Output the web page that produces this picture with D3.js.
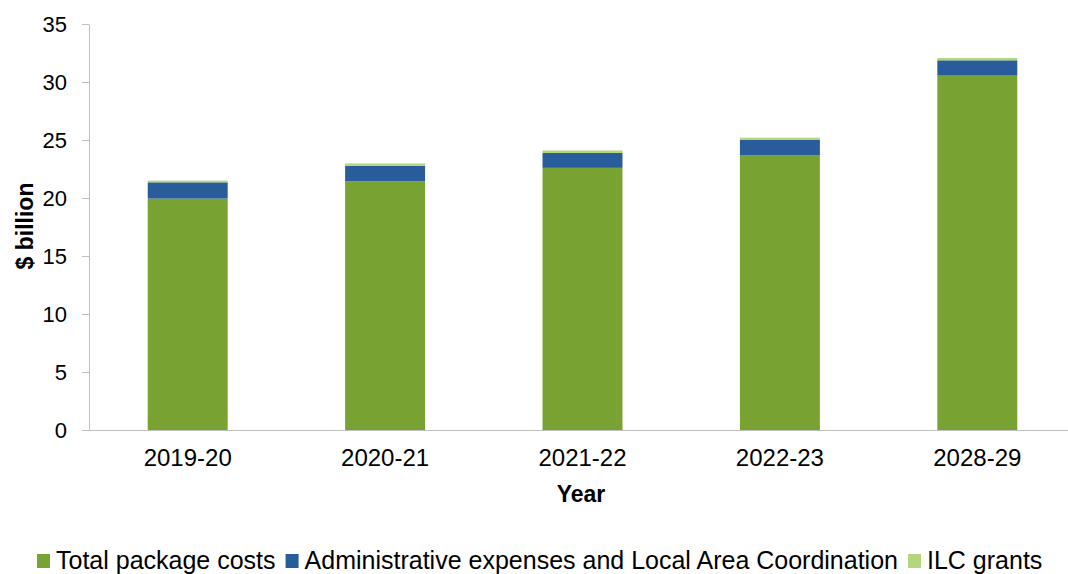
<!DOCTYPE html>
<html><head><meta charset="utf-8">
<script src="https://cdn.jsdelivr.net/npm/d3@7"></script>
<style>body{margin:0;background:#fff;} svg{display:block;font-family:"Liberation Sans",Arial,sans-serif;}</style>
</head><body><svg id="chart" width="1068" height="574"></svg>
<script>
const years = ["2019-20","2020-21","2021-22","2022-23","2028-29"];
const packageCosts = [19.95, 21.45, 22.6, 23.7, 30.55];
const adminCosts = [1.4, 1.33, 1.28, 1.3, 1.32];
const ilcGrants = [0.15, 0.2, 0.22, 0.2, 0.2];
const seriesNames = ["Total package costs","Administrative expenses and Local Area Coordination","ILC grants"];
const yTicks = [0,5,10,15,20,25,30,35];
const colors = ["#78A232","#285C9B","#B4D67C"];

const svg = d3.select("#chart");
const x0 = 89, x1 = 1076, yTop = 24, yBot = 430;
const x = d3.scaleBand().domain(years).range([x0, x1]).paddingInner(0.595).paddingOuter(0.2975);
const y = d3.scaleLinear().domain([0,35]).range([yBot, yTop]);

const rows = years.map((yr,i)=>({year:yr, p:packageCosts[i], a:adminCosts[i], g:ilcGrants[i]}));
const stack = d3.stack().keys(["p","a","g"])(rows);

svg.append("g").selectAll("g").data(stack).join("g")
  .attr("fill",(d,i)=>colors[i])
  .selectAll("rect").data(d=>d).join("rect")
  .attr("x",d=>x(d.data.year)).attr("width",x.bandwidth())
  .attr("y",d=>y(d[1])).attr("height",d=>y(d[0])-y(d[1]));

// y axis
const yAxis = svg.append("g").attr("transform",`translate(${x0},0)`)
  .call(d3.axisLeft(y).tickValues(yTicks).tickSize(7).tickPadding(15).tickSizeOuter(0));
yAxis.select(".domain").attr("stroke","#BFBFBF");
yAxis.selectAll(".tick line").attr("stroke","#BFBFBF");
yAxis.selectAll("text").attr("font-size",22).attr("fill","#000").attr("font-family","Liberation Sans, Arial, sans-serif");

// x axis
const xAxis = svg.append("g").attr("transform",`translate(0,${yBot})`)
  .call(d3.axisBottom(x).tickSize(0).tickPadding(19));
xAxis.select(".domain").attr("stroke","#BFBFBF").attr("d",`M${x0},0.5H1068`);
xAxis.selectAll("text").attr("font-size",24).attr("fill","#000").attr("font-family","Liberation Sans, Arial, sans-serif");

// axis titles
svg.append("text").attr("x",581).attr("y",502).attr("text-anchor","middle")
  .attr("font-weight","bold").attr("font-size",23).text("Year");
svg.append("text").attr("transform","translate(33,226) rotate(-90)").attr("text-anchor","middle")
  .attr("font-weight","bold").attr("font-size",23).text("$ billion");

// legend
const lg = svg.append("g");
const fs = 25;
let cx = 37;
seriesNames.forEach((n,i)=>{
  const g = lg.append("g");
  g.append("rect").attr("x",0).attr("y",554).attr("width",13).attr("height",14).attr("fill",colors[i]);
  const t = g.append("text").attr("x",19).attr("y",569).attr("font-size",fs).attr("fill","#000").text(n);
  const w = t.node().getComputedTextLength();
  g.attr("transform",`translate(${cx},0)`);
  cx += 19 + w + 10;
});
</script></body></html>
